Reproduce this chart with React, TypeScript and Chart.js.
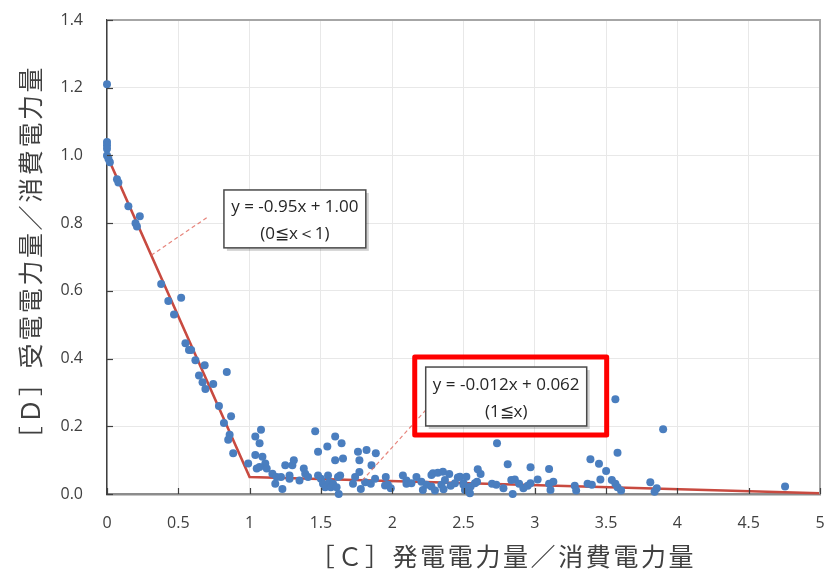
import React, { useEffect, useRef } from "react";
import { Chart, registerables } from "chart.js";

Chart.register(...registerables);

// ---- data ----
const xValues = [
  0, 0, 0, 0, 0, 0.01, 0.02, 0.07, 0.08, 0.15, 0.2, 0.21, 0.23, 0.38, 0.43, 0.52, 0.47,
  0.55, 0.575, 0.59, 0.62, 0.685, 0.645, 0.67, 0.69, 0.745, 0.84, 0.785, 0.87, 0.82, 0.86,
  0.85, 0.885, 0.99,
  1.04, 1.08, 1.07, 1.04, 1.09, 1.11, 1.05, 1.07, 1.12, 1.16, 1.19, 1.18, 1.23, 1.25, 1.22,
  1.28, 1.28, 1.3, 1.31, 1.35, 1.38, 1.39, 1.41, 1.46, 1.48, 1.48, 1.5, 1.515, 1.53, 1.545,
  1.55, 1.56, 1.57, 1.585, 1.6, 1.6, 1.62, 1.61, 1.625, 1.645, 1.655, 1.635, 1.725, 1.74,
  1.76, 1.77, 1.77, 1.78, 1.82, 1.81, 1.855, 1.85, 1.885, 1.88, 1.955, 1.95, 1.97, 1.99,
  2.075, 2.1, 2.1, 2.135, 2.17, 2.205, 2.215, 2.24,
  2.275, 2.286, 2.32, 2.356, 2.4, 2.275, 2.3, 2.345, 2.36, 2.37, 2.41, 2.44, 2.46, 2.475,
  2.5, 2.52, 2.5, 2.51, 2.545, 2.55, 2.58, 2.6, 2.62, 2.595, 2.735, 2.7, 2.73, 2.78, 2.81,
  2.835, 2.86, 2.845, 2.89, 2.92, 2.95, 2.97, 2.97, 3.02, 3.1, 3.1, 3.11, 3.13, 3.28, 3.29,
  3.37, 3.39, 3.4, 3.45, 3.46, 3.5, 3.54, 3.565, 3.58, 3.565, 3.58, 3.605, 3.81, 3.855,
  3.84, 3.9, 4.755,
];
const yValues = [
  1.21, 1.04, 1.03, 1.02, 1.0, 0.99, 0.98, 0.93, 0.92, 0.85, 0.8, 0.79, 0.82, 0.62, 0.57, 0.58, 0.53,
  0.445, 0.425, 0.425, 0.395, 0.38, 0.35, 0.33, 0.31, 0.325, 0.36, 0.26, 0.23, 0.21, 0.175,
  0.16, 0.12, 0.09,
  0.17, 0.19, 0.15, 0.115, 0.11, 0.09, 0.075, 0.08, 0.075, 0.06, 0.05, 0.03, 0.015, 0.085, 0.05,
  0.055, 0.045, 0.085, 0.1, 0.04, 0.075, 0.06, 0.05, 0.185, 0.125, 0.055, 0.045, 0.03, 0.02, 0.14,
  0.055, 0.035, 0.02, 0.03, 0.1, 0.17, 0.05, 0.02, 0.0, 0.15, 0.105, 0.055, 0.03, 0.05,
  0.125, 0.1, 0.065, 0.015, 0.13, 0.035, 0.085, 0.03, 0.12, 0.045, 0.05, 0.025, 0.027, 0.017,
  0.055, 0.04, 0.03, 0.032, 0.05, 0.036, 0.012, 0.027,
  0.056, 0.061, 0.063, 0.066, 0.059, 0.022, 0.01, 0.027, 0.014, 0.041, 0.024, 0.032, 0.049, 0.051,
  0.032, 0.051, 0.027, 0.012, 0.002, 0.022, 0.032, 0.073, 0.059, 0.036, 0.15, 0.03, 0.027, 0.017, 0.088,
  0.041, 0.043, 0.0, 0.03, 0.017, 0.024, 0.079, 0.032, 0.043, 0.074, 0.03, 0.012, 0.036, 0.024, 0.01,
  0.03, 0.103, 0.027, 0.089, 0.043, 0.068, 0.041, 0.28, 0.122, 0.03, 0.02, 0.01, 0.035, 0.017,
  0.007, 0.191, 0.022,
];
// piecewise regression: y=-0.95x+1.00 (0<=x<1), y=-0.012x+0.062 (1<=x)
const trendX = [0, 1, 5];
const trendY = [1.0, 0.05, 0.002];

const xTitle = "［Ｃ］発電電力量／消費電力量";
const yTitle = "［Ｄ］受電電力量／消費電力量";
const eq1Lines = ["y = -0.95x + 1.00", "(0≦x＜1)"];
const eq2Lines = ["y = -0.012x + 0.062", "(1≦x)"];

// annotation geometry, in data units
const boxes = [
  { lines: eq1Lines, x0: 0.82, x1: 1.815, y0: 0.898, y1: 0.727 },
  { lines: eq2Lines, x0: 2.235, x1: 3.364, y0: 0.375, y1: 0.201 },
];
const leaders = [
  { from: [0.31, 0.705], to: [0.706, 0.818] },
  { from: [1.79, 0.04], to: [2.24, 0.25] },
];
const highlight = { x0: 2.158, x1: 3.504, y0: 0.405, y1: 0.174 };

const overlay = {
  id: "overlay",
  afterDatasetsDraw(chart: any) {
    const { ctx, chartArea: a, scales } = chart;
    const xs = scales.x;
    const ys = scales.y;
    const px = (v: number) => xs.getPixelForValue(v);
    const py = (v: number) => ys.getPixelForValue(v);
    ctx.save();
    // top / right frame
    ctx.strokeStyle = "#a6a6a6";
    ctx.lineWidth = 2;
    ctx.beginPath();
    ctx.moveTo(a.left, a.top);
    ctx.lineTo(a.right, a.top);
    ctx.lineTo(a.right, a.bottom);
    ctx.stroke();
    // inner tick marks
    ctx.strokeStyle = "#404040";
    ctx.lineWidth = 1.2;
    ys.ticks.forEach((t: any) => {
      const yy = Math.round(py(t.value)) + 0.5;
      ctx.beginPath();
      ctx.moveTo(a.left, yy);
      ctx.lineTo(a.left + 6, yy);
      ctx.stroke();
    });
    xs.ticks.forEach((t: any) => {
      const xx = Math.round(px(t.value)) + 0.5;
      ctx.beginPath();
      ctx.moveTo(xx, a.bottom);
      ctx.lineTo(xx, a.bottom - 6);
      ctx.stroke();
    });
    // dashed leader lines
    ctx.setLineDash([4, 3]);
    ctx.strokeStyle = "rgba(226,110,100,0.85)";
    ctx.lineWidth = 1.2;
    leaders.forEach((l) => {
      ctx.beginPath();
      ctx.moveTo(px(l.from[0]), py(l.from[1]));
      ctx.lineTo(px(l.to[0]), py(l.to[1]));
      ctx.stroke();
    });
    ctx.setLineDash([]);
    // equation boxes
    boxes.forEach((b) => {
      const x0 = px(b.x0), x1 = px(b.x1), y0 = py(b.y0), y1 = py(b.y1);
      ctx.fillStyle = "rgba(0,0,0,0.18)";
      ctx.fillRect(x0 + 3, y0 + 3, x1 - x0, y1 - y0);
      ctx.fillStyle = "#ffffff";
      ctx.fillRect(x0, y0, x1 - x0, y1 - y0);
      ctx.strokeStyle = "#4a4a4a";
      ctx.lineWidth = 1.5;
      ctx.strokeRect(x0, y0, x1 - x0, y1 - y0);
      ctx.fillStyle = "#262626";
      ctx.font = "17px 'Open Sans', sans-serif";
      ctx.textAlign = "center";
      ctx.textBaseline = "middle";
      const cx = (x0 + x1) / 2;
      const h = y1 - y0;
      ctx.fillText(b.lines[0], cx, y0 + h * 0.3);
      ctx.fillText(b.lines[1], cx, y0 + h * 0.77);
    });
    // red highlight
    {
      const x0 = px(highlight.x0), x1 = px(highlight.x1), y0 = py(highlight.y0), y1 = py(highlight.y1);
      ctx.strokeStyle = "#ff0000";
      ctx.lineWidth = 5;
      ctx.lineJoin = "round";
      ctx.strokeRect(x0, y0, x1 - x0, y1 - y0);
    }
    // axis titles
    ctx.fillStyle = "#404040";
    ctx.font = "25px 'Noto Sans CJK JP', sans-serif";
    (ctx as any).letterSpacing = "2.6px";
    ctx.textAlign = "center";
    ctx.textBaseline = "middle";
    ctx.fillText(xTitle, 503, 556);
    ctx.translate(30, 258);
    ctx.rotate(-Math.PI / 2);
    ctx.fillText(yTitle, 0, 0);
    ctx.restore();
  },
};

const zeroPad = (s: any) => {
  s.paddingTop = 0;
  s.paddingBottom = 0;
  s.paddingLeft = 0;
  s.paddingRight = 0;
};

export default function App() {
  const ref = useRef<HTMLCanvasElement | null>(null);
  useEffect(() => {
    if (!ref.current) return;
    const points = xValues.map((x, i) => ({ x, y: yValues[i] }));
    const trend = trendX.map((x, i) => ({ x, y: trendY[i] }));
    const chart = new Chart(ref.current, {
      type: "scatter",
      data: {
        datasets: [
          {
            type: "scatter",
            data: points,
            backgroundColor: "#4a7ebf",
            borderWidth: 0,
            pointRadius: 4,
            clip: false,
          } as any,
          {
            type: "line",
            data: trend,
            borderColor: "#c84a40",
            borderWidth: 2.6,
            pointRadius: 0,
            fill: false,
            clip: false,
          } as any,
        ],
      },
      options: {
        animation: false,
        responsive: true,
        maintainAspectRatio: false,
        layout: { padding: { top: 20, right: 5, left: 0, bottom: 0 } },
        plugins: { legend: { display: false }, tooltip: { enabled: false } },
        scales: {
          x: {
            type: "linear",
            min: 0,
            max: 5,
            afterFit: (s: any) => {
              s.height = 78;
              zeroPad(s);
            },
            ticks: {
              stepSize: 0.5,
              padding: 20,
              color: "#404040",
              font: { family: "'Open Sans', sans-serif", size: 16 },
              callback: (v: any) => String(Math.round(Number(v) * 10) / 10),
            },
            grid: { color: "#e8e8e8", lineWidth: 1, drawTicks: false },
            border: { display: true, color: "#8c8c8c", width: 2.5 },
          },
          y: {
            type: "linear",
            min: 0,
            max: 1.4,
            afterFit: (s: any) => {
              s.width = 107;
              zeroPad(s);
            },
            ticks: {
              stepSize: 0.2,
              padding: 24,
              color: "#404040",
              font: { family: "'Open Sans', sans-serif", size: 16 },
              callback: (v: any) => Number(v).toFixed(1),
            },
            grid: { color: "#e8e8e8", lineWidth: 1, drawTicks: false },
            border: { display: true, color: "#404040", width: 1.5 },
          },
        },
      },
      plugins: [overlay],
    });
    return () => chart.destroy();
  }, []);
  return (
    <div style={{ position: "absolute", left: 0, top: 0, width: 825, height: 572, background: "#fff" }}>
      <canvas ref={ref} />
    </div>
  );
}
